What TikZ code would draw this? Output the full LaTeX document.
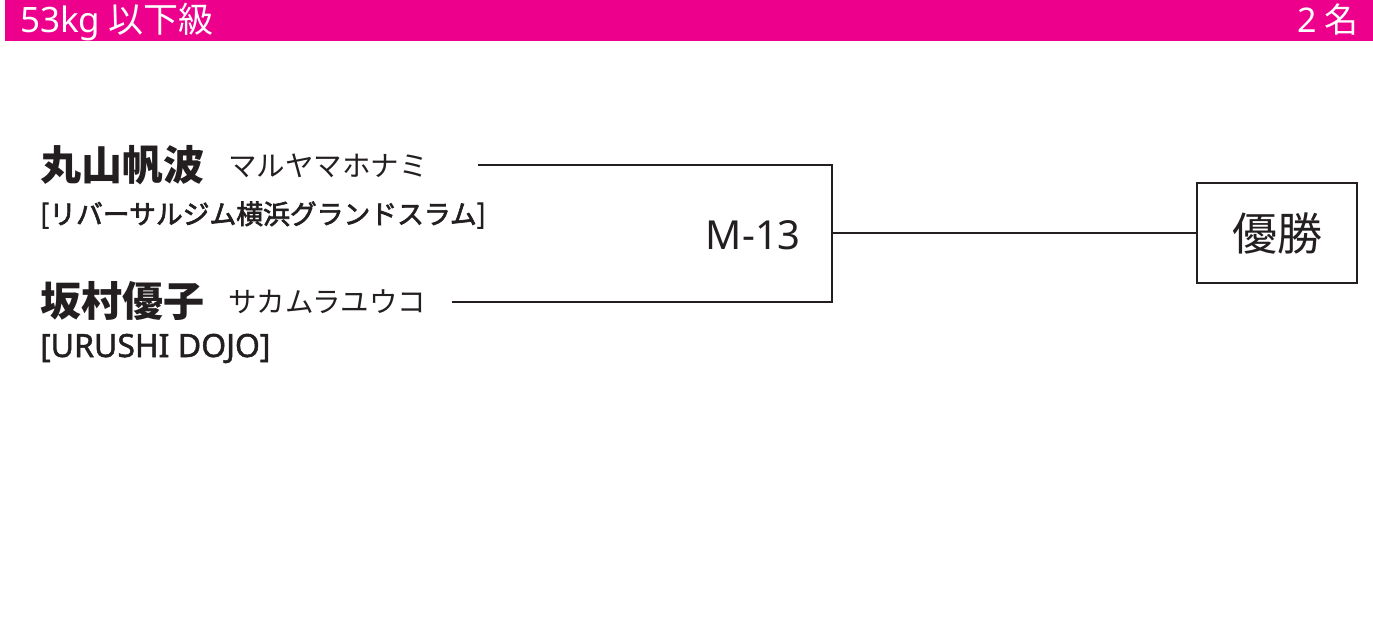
\documentclass[tikz,border=0pt]{standalone}
\usepackage{fontspec}
\setmainfont{Noto Sans CJK JP}
\newfontfamily\lat{Noto Sans}
\newfontfamily\latm[FakeBold=1.5]{Noto Sans}
\newfontfamily\med[FakeBold=2.5]{Noto Sans CJK JP}
\definecolor{mag}{HTML}{EC008C}
\definecolor{ink}{HTML}{231F20}
\begin{document}
\begin{tikzpicture}[x=1pt,y=-1pt,
  txt/.style={inner sep=0pt,anchor=base west,text=ink},
  ln/.style={line width=2pt,draw=ink}]
\useasboundingbox (0,0) rectangle (1373,641);
\fill[mag] (5,0) rectangle (1373,41);
\node[txt,text=white,font=\fontsize{35}{35}\selectfont] (title) at (20,32) {{\lat 53kg} 以下級};
\node[txt,anchor=base east,text=white,font=\fontsize{34}{34}\selectfont] (count) at (1359,32) {{\lat 2} 名};
% player 1
\node[txt,font=\fontsize{41}{41}\bfseries] (n1) at (40,180) {丸山帆波};
\node[txt,font=\fontsize{28.5}{28.5}\selectfont] (k1) at (228,176) {マルヤマホナミ};
\node[txt,font=\fontsize{26.8}{26.8}\med] (c1) at (40,224) {[リバーサルジム横浜グランドスラム]};
% player 2
\node[txt,font=\fontsize{41}{41}\bfseries] (n2) at (40,316) {坂村優子};
\node[txt,font=\fontsize{28.5}{28.5}\selectfont] (k2) at (228,312) {サカムラユウコ};
\node[txt,font=\fontsize{32}{32}\latm] (c2) at (40,357) {[URUSHI DOJO]};
% bracket
\coordinate (a1) at (478,165);
\coordinate (a2) at (452,302);
\coordinate (m) at (832,233);
\draw[ln] (a1) -- (832,165) -- (832,302) -- (a2);
\node[txt,anchor=base east,font=\fontsize{40}{40}\lat] (match) at (801,249) {M-13};
\node[draw=ink,text=ink,line width=2pt,minimum width=160pt,minimum height=100pt,inner sep=0pt,font=\fontsize{45}{45}\selectfont] (win) at (1277,233) {優勝};
\draw[ln] (m) -- (win.west);
\end{tikzpicture}
\end{document}
